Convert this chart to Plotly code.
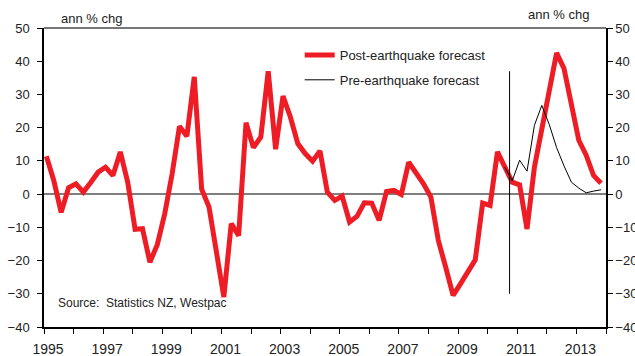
import numpy as np
import plotly.graph_objects as go

# Quarterly building consents growth, 1995Q1 - 2013Q4 (annual % change)
first_year = 1995.08
n_quarters = 76
post_quake = [
    11.4, 4.1, -5.5, 1.9, 3.1, 0.6, 3.5, 6.6, 8.1, 5.6,
    12.7, 3.6, -10.6, -10.4, -20.5, -15.2, -6.0, 6.0, 20.4, 17.4,
    35.3, 1.5, -3.9, -17.0, -31.0, -8.9, -12.5, 21.5, 14.0, 17.2,
    37.0, 13.5, 29.5, 23.2, 15.2, 12.2, 9.9, 13.0, 0.6, -1.9,
    -0.6, -8.4, -6.7, -2.6, -2.7, -7.9, 0.8, 1.1, -0.1, 9.6,
    6.6, 3.1, -0.9, -13.9, -22.0, -30.5, -27.0, -23.5, -19.8, -2.7,
    -3.4, 12.7, 8.1, 3.6, 2.8, -10.5, 8.1, 20.2, 32.2, 42.5,
    37.8, 27.2, 16.2, 11.7, 5.6, 3.3,
]
# Earlier forecast path, starting from the 2010Q3 quarter
pre_start = 62
pre_quake = [8.1, 4.0, 10.2, 6.9, 20.7, 26.7, 21.0, 14.0, 8.5, 3.6, 1.8, 0.4, 0.9, 1.3]

quake_date = 2010.74
quake_span = (-30, 37)

year_ticks = list(range(1995, 2015))
year_labels = [str(y) if (y - 1995) % 2 == 0 else "" for y in year_ticks]
y_ticks = list(range(-40, 51, 10))

x_all = first_year + 0.25 * np.arange(n_quarters)
x_pre = x_all[pre_start:pre_start + len(pre_quake)]

RED = "#EE1D25"
FONT = "Liberation Sans, Arial, sans-serif"
TXT = "#222222"

fig = go.Figure()
fig.add_trace(go.Scatter(
    x=x_all, y=post_quake, mode="lines", name="Post-earthquake forecast",
    line=dict(color=RED, width=5), legendgroup="a",
))
fig.add_trace(go.Scatter(
    x=x_pre, y=pre_quake, mode="lines", name="Pre-earthquake forecast",
    line=dict(color="black", width=1), legendgroup="b",
))
# invisible copy so the right-hand axis is laid out with its ticks
fig.add_trace(go.Scatter(
    x=x_all, y=post_quake, yaxis="y2", mode="lines", opacity=0,
    showlegend=False, hoverinfo="skip", line=dict(width=0),
))

# earthquake marker
fig.add_shape(type="line", xref="x", yref="y", x0=quake_date, x1=quake_date,
              y0=quake_span[0], y1=quake_span[1], line=dict(color="black", width=1))
# zero line
fig.add_shape(type="line", xref="paper", yref="y", x0=0, x1=1, y0=0, y1=0,
              line=dict(color="#555555", width=1.5), layer="below")
# top frame
fig.add_shape(type="line", xref="paper", yref="paper", x0=0, x1=1, y0=1, y1=1,
              line=dict(color="#777777", width=2))

fig.add_annotation(text="ann % chg", xref="x", yref="paper", x=1995.52, y=1.0,
                   xanchor="left", yanchor="bottom", showarrow=False, yshift=0,
                   font=dict(family=FONT, size=13, color=TXT))
fig.add_annotation(text="ann % chg", xref="x", yref="paper", x=2013.48, y=1.0,
                   xanchor="right", yanchor="bottom", showarrow=False, yshift=4,
                   font=dict(family=FONT, size=13, color=TXT))
fig.add_annotation(text="Source:  Statistics NZ, Westpac", xref="x", yref="y",
                   x=1995.42, y=-32.9, xanchor="left", yanchor="middle", showarrow=False,
                   font=dict(family=FONT, size=12, color=TXT))

axis_font = dict(family=FONT, size=13, color=TXT)
fig.update_layout(
    width=635, height=356,
    margin=dict(l=44, r=29, t=28, b=29, autoexpand=False),
    plot_bgcolor="white", paper_bgcolor="white",
    showlegend=True,
    legend=dict(x=0.455, y=0.96, xanchor="left", yanchor="top",
                bgcolor="rgba(0,0,0,0)", font=dict(family=FONT, size=13, color=TXT),
                traceorder="grouped", tracegroupgap=5),
    xaxis=dict(range=[1995, 2014], tickvals=year_ticks, ticktext=year_labels,
               showgrid=False, zeroline=False, showline=True, linecolor="black",
               linewidth=1.5, ticks="outside", ticklen=5, tickcolor="black",
               automargin=False, ticklabelstandoff=3, ticklabelshift=4,
               tickfont=dict(family=FONT, size=14, color=TXT)),
    yaxis=dict(range=[-40, 50], tickvals=y_ticks, showgrid=False, zeroline=False,
               showline=True, linecolor="black", linewidth=1.5, ticks="outside",
               ticklen=5, tickcolor="black", tickfont=axis_font, automargin=False,
               ticklabelstandoff=5),
    yaxis2=dict(range=[-40, 50], tickvals=y_ticks, overlaying="y", side="right",
                showgrid=False, zeroline=False, showline=True, linecolor="black",
                linewidth=1.5, ticks="outside", ticklen=5, tickcolor="black",
                tickfont=axis_font, automargin=False),
)

fig.write_html("out.html")
